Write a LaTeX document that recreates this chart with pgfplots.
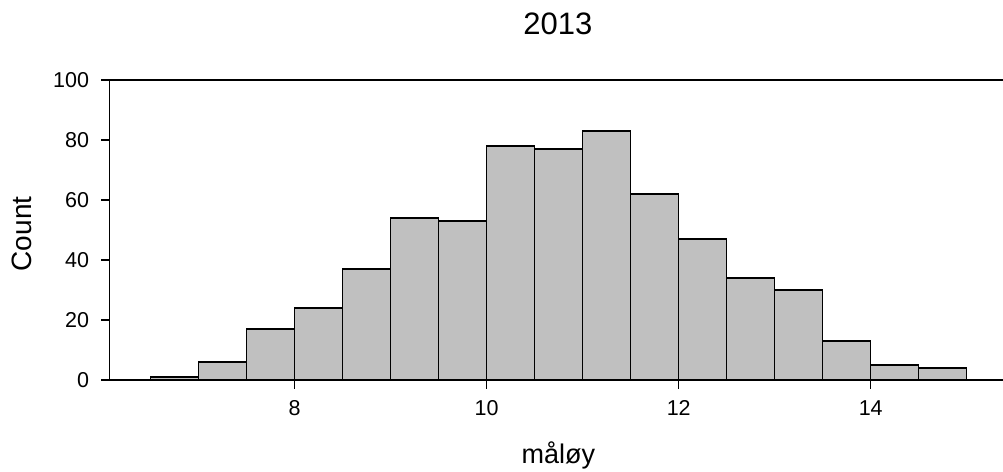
\documentclass[border=0pt]{standalone}
\usepackage{pgfplots}
\pgfplotsset{compat=1.18}
\usepackage{fontspec}
\setmainfont{Liberation Sans}
\definecolor{barfill}{RGB}{192,192,192}
\begin{document}
\begin{tikzpicture}
\useasboundingbox (0,0) rectangle (1003pt,471pt);
\begin{axis}[
  at={(109.7pt,91pt)}, anchor=south west,
  scale only axis, width=893.3pt, height=300pt,
  xmin=6.073, xmax=15.378, ymin=0, ymax=100,
  axis x line*=box, axis y line*=left,
  axis line style={line width=1.3pt, black},
  xtick={8,10,12,14}, ytick={0,20,40,60,80,100},
  minor tick num=0,
  tick align=outside, xtick pos=left, ytick pos=left, major tick length=8.5pt,
  tick style={line width=1.1pt, black},
  /pgf/number format/assume math mode=true,
  ticklabel style={font=\fontsize{21.5}{24}\selectfont, inner sep=0pt},
  xticklabel style={anchor=north, yshift=-12.2pt},
  yticklabel style={anchor=east, xshift=-11.9pt},
  title={2013},
  title style={font=\fontsize{31}{36}\selectfont, at={(axis description cs:0.5018,1.13)}, anchor=base, inner sep=0pt},
  xlabel={måløy},
  xlabel style={font=\fontsize{27}{32}\selectfont, at={(axis description cs:0.5022,-0.279)}, anchor=base, inner sep=0pt},
  ylabel={Count},
  ylabel style={font=\fontsize{28}{32}\selectfont, at={(axis description cs:-0.0985,0.487)}, anchor=center, inner sep=0pt},
]
\addplot[ybar interval, fill=barfill, draw=black, line width=1.3pt] coordinates {
  (6.5,1) (7.0,6) (7.5,17) (8.0,24) (8.5,37) (9.0,54) (9.5,53) (10.0,78) (10.5,77)
  (11.0,83) (11.5,62) (12.0,47) (12.5,34) (13.0,30) (13.5,13) (14.0,5) (14.5,4) (15.0,4)
};
\end{axis}
\end{tikzpicture}
\end{document}
